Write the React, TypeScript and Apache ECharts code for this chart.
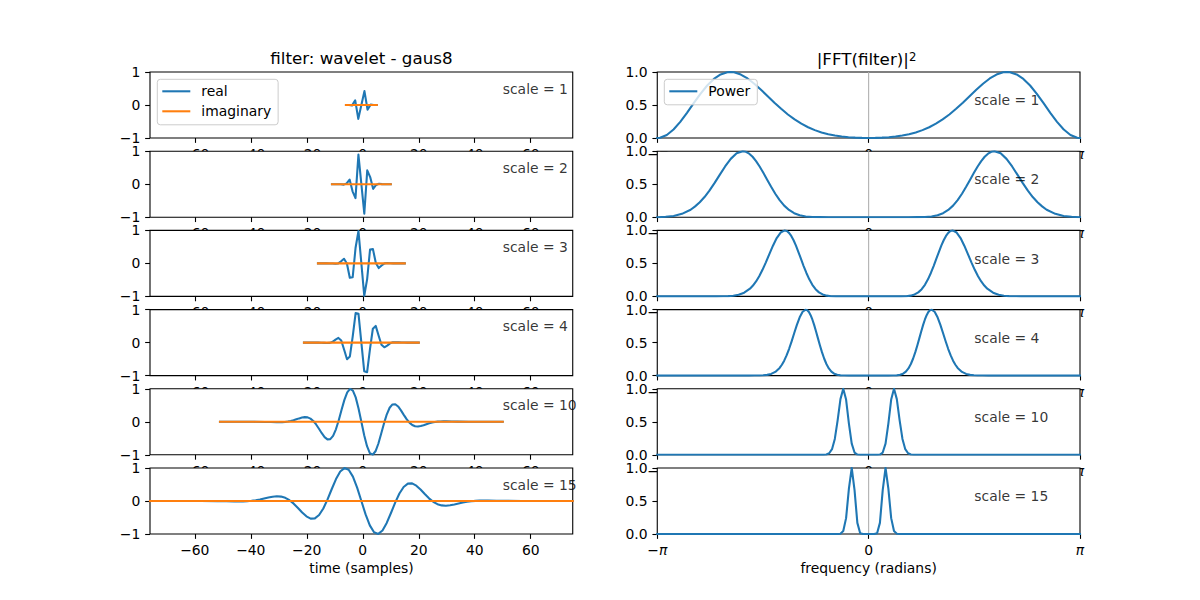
import React, { useEffect, useRef } from 'react';
import * as echarts from 'echarts';

// ---------------- data ----------------
const scales = [1, 2, 3, 4, 10, 15];

// time-domain filter (real part) for scales 1..4: sample positions and values
const t1 = [-6, -4.9, -3.8, -2.7, -1.6, -0.5, 0.6, 1.7, 2.8, 3.9, 5];
const real1 = [0, -0.0003, -0.012, 0.1414, -0.4203, 0, 0.4203, -0.1414, 0.012, 0.0003, 0];

const t2 = [-11, -9.95, -8.9, -7.85, -6.8, -5.75, -4.7, -3.65, -2.6, -1.55, -0.5, 0.55, 1.6, 2.65, 3.7, 4.75, 5.8, 6.85, 7.9, 8.95, 10];
const real2 = [0, 0, -0.0003, -0.003, -0.012, 0.0227, 0.1415, -0.216, -0.4203, 0.896, 0, -0.896, 0.4203, 0.216, -0.1415, -0.0227, 0.012, 0.003, 0.0003, 0, 0];

const t3 = [-16, -14.967, -13.933, -12.9, -11.867, -10.833, -9.8, -8.767, -7.733, -6.7, -5.667, -4.633, -3.6, -2.567, -1.533, -0.5, 0.533, 1.567, 2.6, 3.633, 4.667, 5.7, 6.733, 7.767, 8.8, 9.833, 10.867, 11.9, 12.933, 13.967, 15];
const real3 = [0, 0, 0, -0.0003, -0.001, -0.0056, -0.012, -0.0015, 0.0636, 0.1415, -0.0017, -0.4334, -0.4203, 0.475, 0.9815, 0, -0.9815, -0.475, 0.4203, 0.4334, 0.0119, -0.1415, -0.0636, 0.0015, 0.012, 0.0056, 0.001, 0.0003, 0, 0, 0];

const t4 = [-21, -19.975, -18.95, -17.925, -16.9, -15.875, -14.85, -13.825, -12.8, -11.775, -10.75, -9.725, -8.7, -7.675, -6.65, -5.625, -4.6, -3.575, -2.55, -1.525, -0.5, 0.525, 1.55, 2.575, 3.6, 4.625, 5.65, 6.675, 7.7, 8.725, 9.75, 10.775, 11.8, 12.825, 13.85, 14.875, 15.9, 16.925, 17.95, 18.975, 20];
const real4 = [0, 0, 0, 0, -0.0003, -0.0008, -0.003, -0.0072, -0.012, -0.0078, 0.0227, 0.0894, 0.1415, 0.0646, -0.216, -0.5058, -0.4203, 0.1965, 0.8958, 0.8705, 0, -0.8705, -0.8958, -0.1965, 0.4203, 0.5058, 0.216, -0.0646, -0.1415, -0.0894, -0.0227, 0.0078, 0.012, 0.0072, 0.003, 0.0008, 0.0003, 0, 0, 0, 0];

// scales 10 and 15: [t, value] pairs
const real10 = [[-51, 0], [-38.9, -0.0007], [-34.84, -0.0045], [-32.82, -0.0083], [-30.8, -0.012], [-29.79, -0.0123], [-28.78, -0.0102], [-27.77, -0.0045], [-26.76, 0.0063], [-25.75, 0.0232], [-24.74, 0.0462], [-23.73, 0.0741], [-22.72, 0.1034], [-21.71, 0.1285], [-20.7, 0.1415], [-19.69, 0.1335], [-18.68, 0.0963], [-17.67, 0.0247], [-16.66, -0.0803], [-15.65, -0.21], [-14.64, -0.3466], [-13.63, -0.464], [-12.62, -0.533], [-11.61, -0.526], [-10.6, -0.4247], [-9.59, -0.227], [-8.58, 0.0489], [-7.57, 0.364], [-6.56, 0.665], [-5.55, 0.8933], [-4.54, 0.9976], [-3.53, 0.947], [-2.52, 0.74], [-1.51, 0.4056], [-0.5, 0], [0.51, -0.4056], [1.52, -0.74], [2.53, -0.947], [3.54, -0.9976], [4.55, -0.8933], [5.56, -0.665], [6.57, -0.364], [7.58, -0.0489], [8.59, 0.227], [9.6, 0.4247], [10.61, 0.526], [11.62, 0.533], [12.63, 0.464], [13.64, 0.3466], [14.65, 0.21], [15.66, 0.0803], [16.67, -0.0247], [17.68, -0.0963], [18.69, -0.1335], [19.7, -0.1415], [20.71, -0.1285], [21.72, -0.1034], [22.73, -0.0741], [23.74, -0.0462], [24.75, -0.0232], [25.76, -0.0063], [26.77, 0.0045], [27.78, 0.0102], [28.79, 0.0123], [29.8, 0.012], [31.82, 0.0083], [33.84, 0.0045], [37.88, 0.0007], [50, 0]];

const real15 = [[-76, 0], [-57.88, -0.0007], [-51.84, -0.0045], [-48.82, -0.0083], [-45.8, -0.012], [-44.29, -0.0123], [-42.78, -0.0102], [-41.27, -0.0045], [-39.76, 0.0063], [-38.25, 0.0232], [-36.74, 0.0462], [-35.23, 0.0741], [-33.72, 0.1034], [-32.21, 0.1285], [-30.7, 0.1415], [-29.19, 0.1335], [-27.68, 0.0963], [-26.17, 0.0247], [-24.66, -0.0803], [-23.15, -0.21], [-21.64, -0.3466], [-20.13, -0.464], [-18.62, -0.533], [-17.11, -0.526], [-15.6, -0.4247], [-14.09, -0.227], [-12.58, 0.0489], [-11.07, 0.364], [-9.56, 0.665], [-8.05, 0.8933], [-6.54, 0.9976], [-5.03, 0.947], [-3.52, 0.74], [-2.01, 0.4056], [-0.5, 0], [1.01, -0.4056], [2.52, -0.74], [4.03, -0.947], [5.54, -0.9976], [7.05, -0.8933], [8.56, -0.665], [10.07, -0.364], [11.58, -0.0489], [13.09, 0.227], [14.6, 0.4247], [16.11, 0.526], [17.62, 0.533], [19.13, 0.464], [20.64, 0.3466], [22.15, 0.21], [23.66, 0.0803], [25.17, -0.0247], [26.68, -0.0963], [28.19, -0.1335], [29.7, -0.1415], [31.21, -0.1285], [32.72, -0.1034], [34.23, -0.0741], [35.74, -0.0462], [37.25, -0.0232], [38.76, -0.0063], [40.27, 0.0045], [41.78, 0.0102], [43.29, 0.0123], [44.8, 0.012], [47.82, 0.0083], [49.84, 0.0045], [56.88, 0.0007], [75, 0]];

// imaginary part (all zero) over each filter's support
const imag1 = [[-6, 0], [5, 0]];
const imag2 = [[-11, 0], [10, 0]];
const imag3 = [[-16, 0], [15, 0]];
const imag4 = [[-21, 0], [20, 0]];
const imag10 = [[-51, 0], [50, 0]];
const imag15 = [[-76, 0], [75, 0]];

// |FFT(filter)|^2 : [frequency (rad), power]
const power1 = [[-3.1416, 0], [-3.1, 0.004], [-3.0, 0.0454], [-2.9, 0.1279], [-2.8, 0.2436], [-2.7, 0.3807], [-2.6, 0.5272], [-2.5, 0.6689], [-2.4, 0.7953], [-2.3, 0.8952], [-2.2, 0.9638], [-2.1, 0.9967], [-2.056, 1.0], [-2.0, 0.9951], [-1.9, 0.9615], [-1.8, 0.9019], [-1.7, 0.8227], [-1.6, 0.7309], [-1.5, 0.6331], [-1.4, 0.5351], [-1.3, 0.442], [-1.2, 0.3565], [-1.1, 0.2813], [-1.0, 0.2166], [-0.9, 0.163], [-0.8, 0.1192], [-0.7, 0.0847], [-0.6, 0.0578], [-0.5, 0.0376], [-0.4, 0.0227], [-0.3, 0.0122], [-0.2, 0.0052], [-0.1, 0.0013], [0, 0], [0.1, 0.0013], [0.2, 0.0052], [0.3, 0.0122], [0.4, 0.0227], [0.5, 0.0376], [0.6, 0.0578], [0.7, 0.0847], [0.8, 0.1192], [0.9, 0.163], [1.0, 0.2166], [1.1, 0.2813], [1.2, 0.3565], [1.3, 0.442], [1.4, 0.5351], [1.5, 0.6331], [1.6, 0.7309], [1.7, 0.8227], [1.8, 0.9019], [1.9, 0.9615], [2.0, 0.9951], [2.056, 1.0], [2.1, 0.9967], [2.2, 0.9638], [2.3, 0.8952], [2.4, 0.7953], [2.5, 0.6689], [2.6, 0.5272], [2.7, 0.3807], [2.8, 0.2436], [2.9, 0.1279], [3.0, 0.0454], [3.1, 0.004], [3.1416, 0]];

const power2 = [[-3.1416, 0], [-3.1305, 0.0005], [-3.0166, 0.006], [-2.8983, 0.019], [-2.7749, 0.051], [-2.6458, 0.113], [-2.5788, 0.1642], [-2.51, 0.2264], [-2.4393, 0.3055], [-2.3665, 0.4025], [-2.2913, 0.516], [-2.2136, 0.641], [-2.1331, 0.7684], [-2.0494, 0.8837], [-1.9622, 0.9676], [-1.8708, 1.0], [-1.8235, 0.9909], [-1.7748, 0.963], [-1.7248, 0.916], [-1.6733, 0.8505], [-1.6202, 0.7681], [-1.5653, 0.6724], [-1.5083, 0.568], [-1.4492, 0.4603], [-1.3875, 0.3553], [-1.3229, 0.2588], [-1.255, 0.1756], [-1.1832, 0.1093], [-1.1068, 0.0609], [-1.0247, 0.0294], [-0.9354, 0.0116], [-0.8367, 0.0035], [-0.7246, 0.0007], [-0.5916, 0.0001], [0, 0], [0.5916, 0.0001], [0.7246, 0.0007], [0.8367, 0.0035], [0.9354, 0.0116], [1.0247, 0.0294], [1.1068, 0.0609], [1.1832, 0.1093], [1.255, 0.1756], [1.3229, 0.2588], [1.3875, 0.3553], [1.4492, 0.4603], [1.5083, 0.568], [1.5653, 0.6724], [1.6202, 0.7681], [1.6733, 0.8505], [1.7248, 0.916], [1.7748, 0.963], [1.8235, 0.9909], [1.8708, 1.0], [1.9622, 0.9676], [2.0494, 0.8837], [2.1331, 0.7684], [2.2136, 0.641], [2.2913, 0.516], [2.3665, 0.4025], [2.4393, 0.3055], [2.51, 0.2264], [2.5788, 0.1642], [2.6458, 0.113], [2.7749, 0.051], [2.8983, 0.019], [3.0166, 0.006], [3.1305, 0.0005], [3.1416, 0]];

const power3 = [[-3.1416, 0], [-2.3664, 0.0001], [-2.2657, 0.0004], [-2.1602, 0.0018], [-2.087, 0.0046], [-2.0111, 0.011], [-1.9322, 0.0254], [-1.8499, 0.0561], [-1.7638, 0.1167], [-1.7192, 0.1642], [-1.6733, 0.2264], [-1.6262, 0.3055], [-1.5776, 0.4025], [-1.5275, 0.516], [-1.4757, 0.641], [-1.422, 0.7684], [-1.3663, 0.8837], [-1.3081, 0.9676], [-1.2472, 1.0], [-1.2156, 0.9909], [-1.1832, 0.963], [-1.1499, 0.916], [-1.1155, 0.8505], [-1.0801, 0.7681], [-1.0435, 0.6724], [-1.0055, 0.568], [-0.9661, 0.4603], [-0.925, 0.3553], [-0.8819, 0.2588], [-0.8367, 0.1756], [-0.7888, 0.1093], [-0.7379, 0.0609], [-0.6831, 0.0294], [-0.6236, 0.0116], [-0.5578, 0.0035], [-0.483, 0.0007], [-0.3944, 0.0001], [0, 0], [0.3944, 0.0001], [0.483, 0.0007], [0.5578, 0.0035], [0.6236, 0.0116], [0.6831, 0.0294], [0.7379, 0.0609], [0.7888, 0.1093], [0.8367, 0.1756], [0.8819, 0.2588], [0.925, 0.3553], [0.9661, 0.4603], [1.0055, 0.568], [1.0435, 0.6724], [1.0801, 0.7681], [1.1155, 0.8505], [1.1499, 0.916], [1.1832, 0.963], [1.2156, 0.9909], [1.2472, 1.0], [1.3081, 0.9676], [1.3663, 0.8837], [1.422, 0.7684], [1.4757, 0.641], [1.5275, 0.516], [1.5776, 0.4025], [1.6262, 0.3055], [1.6733, 0.2264], [1.7192, 0.1642], [1.7638, 0.1167], [1.8499, 0.0561], [1.9322, 0.0254], [2.0111, 0.011], [2.087, 0.0046], [2.1602, 0.0018], [2.2657, 0.0004], [2.3664, 0.0001], [3.1416, 0]];

const power4 = [[-3.1416, 0], [-1.7748, 0.0001], [-1.6993, 0.0004], [-1.6202, 0.0018], [-1.5653, 0.0046], [-1.5083, 0.011], [-1.4492, 0.0254], [-1.3875, 0.0561], [-1.3229, 0.1167], [-1.2894, 0.1642], [-1.255, 0.2264], [-1.2196, 0.3055], [-1.1832, 0.4025], [-1.1457, 0.516], [-1.1068, 0.641], [-1.0665, 0.7684], [-1.0247, 0.8837], [-0.9811, 0.9676], [-0.9354, 1.0], [-0.9117, 0.9909], [-0.8874, 0.963], [-0.8624, 0.916], [-0.8367, 0.8505], [-0.8101, 0.7681], [-0.7826, 0.6724], [-0.7542, 0.568], [-0.7246, 0.4603], [-0.6937, 0.3553], [-0.6614, 0.2588], [-0.6275, 0.1756], [-0.5916, 0.1093], [-0.5534, 0.0609], [-0.5124, 0.0294], [-0.4677, 0.0116], [-0.4183, 0.0035], [-0.3623, 0.0007], [-0.2958, 0.0001], [0, 0], [0.2958, 0.0001], [0.3623, 0.0007], [0.4183, 0.0035], [0.4677, 0.0116], [0.5124, 0.0294], [0.5534, 0.0609], [0.5916, 0.1093], [0.6275, 0.1756], [0.6614, 0.2588], [0.6937, 0.3553], [0.7246, 0.4603], [0.7542, 0.568], [0.7826, 0.6724], [0.8101, 0.7681], [0.8367, 0.8505], [0.8624, 0.916], [0.8874, 0.963], [0.9117, 0.9909], [0.9354, 1.0], [0.9811, 0.9676], [1.0247, 0.8837], [1.0665, 0.7684], [1.1068, 0.641], [1.1457, 0.516], [1.1832, 0.4025], [1.2196, 0.3055], [1.255, 0.2264], [1.2894, 0.1642], [1.3229, 0.1167], [1.3875, 0.0561], [1.4492, 0.0254], [1.5083, 0.011], [1.5653, 0.0046], [1.6202, 0.0018], [1.6993, 0.0004], [1.7748, 0.0001], [3.1416, 0]];

const power10 = [[-3.1416, 0], [-0.754, 0], [-0.7121, 0.0001], [-0.6702, 0.0008], [-0.6283, 0.0049], [-0.5864, 0.0231], [-0.5445, 0.0846], [-0.5027, 0.2402], [-0.4608, 0.5203], [-0.4189, 0.8439], [-0.377, 1.0], [-0.3351, 0.8376], [-0.2932, 0.4732], [-0.2513, 0.1685], [-0.2094, 0.034], [-0.1676, 0.0033], [-0.1257, 0.0001], [-0.0838, 0], [0, 0], [0.0838, 0], [0.1257, 0.0001], [0.1676, 0.0033], [0.2094, 0.034], [0.2513, 0.1685], [0.2932, 0.4732], [0.3351, 0.8376], [0.377, 1.0], [0.4189, 0.8439], [0.4608, 0.5203], [0.5027, 0.2402], [0.5445, 0.0846], [0.5864, 0.0231], [0.6283, 0.0049], [0.6702, 0.0008], [0.7121, 0.0001], [0.754, 0], [3.1416, 0]];

const power15 = [[-3.1416, 0], [-0.5027, 0], [-0.4608, 0.0003], [-0.4189, 0.0049], [-0.377, 0.0456], [-0.3351, 0.2402], [-0.2932, 0.6879], [-0.2513, 1.0], [-0.2094, 0.6637], [-0.1676, 0.1685], [-0.1257, 0.0117], [-0.0838, 0.0001], [-0.0419, 0], [0, 0], [0.0419, 0], [0.0838, 0.0001], [0.1257, 0.0117], [0.1676, 0.1685], [0.2094, 0.6637], [0.2513, 1.0], [0.2932, 0.6879], [0.3351, 0.2402], [0.377, 0.0456], [0.4189, 0.0049], [0.4608, 0.0003], [0.5027, 0], [3.1416, 0]];

// axis ticks and annotation anchors
const timeTicks = [-60, -40, -20, 0, 20, 40, 60];
const freqTicks = [-Math.PI, 0, Math.PI];
const timeRange = [-76, 75];
const timeLabelAt = [50, 0.35];
const freqLabelAt = [Math.PI / 2, 0.5];
const zeroFreqLine = [[0, 0], [0, 1]];

const realSeries = [
  t1.map((t, i) => [t, real1[i]]),
  t2.map((t, i) => [t, real2[i]]),
  t3.map((t, i) => [t, real3[i]]),
  t4.map((t, i) => [t, real4[i]]),
  real10,
  real15,
];
const imagSeries = [imag1, imag2, imag3, imag4, imag10, imag15];
const powerSeries = [power1, power2, power3, power4, power10, power15];

// ---------------- style / layout ----------------
const FONT = '"DejaVu Sans", sans-serif';
const BLUE = '#1f77b4';
const ORANGE = '#ff7f0e';
const COL_LEFT = [150, 657.27];
const AX_W = 422.73;
const AX_H = 66;
const TOP0 = 72;
const ROW_STEP = 79.2;
const FS = 13.9;

const minusFmt = (v: number) => (v < 0 ? '\u2212' + Math.abs(v) : String(v));

function buildOption() {
  const grid: any[] = [];
  const xAxis: any[] = [];
  const yAxis: any[] = [];
  const series: any[] = [];

  const tickCommon = { show: true, length: 4.86, lineStyle: { color: '#000', width: 1.1 } };
  const labelCommon = { color: '#000', fontSize: FS, fontFamily: FONT };
  const noLine = { show: false, onZero: false };

  scales.forEach((s, r) => {
    const top = TOP0 + r * ROW_STEP;
    for (let c = 0; c < 2; c++) {
      grid.push({
        left: COL_LEFT[c], top, width: AX_W, height: AX_H,
        show: true, backgroundColor: '#ffffff', borderColor: '#000', borderWidth: 1.1,
        containLabel: false, outerBoundsMode: 'none', z: 10 * r,
      });
    }
    const gL = 2 * r;
    const gR = 2 * r + 1;

    // left (time) axes
    xAxis.push({
      type: 'value', gridIndex: gL, position: 'bottom', min: timeRange[0], max: timeRange[1], z: 10 * r + 5,
      axisLine: noLine, splitLine: { show: false },
      axisTick: { ...tickCommon, customValues: timeTicks },
      axisLabel: { ...labelCommon, margin: 9, customValues: timeTicks, formatter: minusFmt },
    });
    yAxis.push({
      type: 'value', gridIndex: gL, position: 'left', min: -1, max: 1, interval: 1, z: 10 * r + 5,
      axisLine: noLine, splitLine: { show: false },
      axisTick: tickCommon,
      axisLabel: { ...labelCommon, margin: 9.7, formatter: minusFmt },
    });
    // right (frequency) axes
    xAxis.push({
      type: 'value', gridIndex: gR, position: 'bottom', min: -Math.PI, max: Math.PI, z: 10 * r + 5,
      axisLine: noLine, splitLine: { show: false },
      axisTick: { ...tickCommon, customValues: freqTicks },
      axisLabel: {
        ...labelCommon, margin: 9, customValues: freqTicks,
        formatter: (v: number) => (Math.abs(v) < 1e-6 ? '0' : v < 0 ? '\u2212{pi|\u03c0}' : '{pi|\u03c0}'),
        rich: { pi: { fontStyle: 'italic', fontSize: FS, fontFamily: FONT, color: '#000' } },
      },
    });
    yAxis.push({
      type: 'value', gridIndex: gR, position: 'left', min: 0, max: 1, interval: 0.5, z: 10 * r + 5,
      axisLine: noLine, splitLine: { show: false },
      axisTick: tickCommon,
      axisLabel: { ...labelCommon, margin: 9.7, formatter: (v: number) => v.toFixed(1) },
    });

    const lineBase = {
      type: 'line', symbol: 'none', showSymbol: false, silent: true,
      emphasis: { disabled: true }, z: 10 * r + 6, animation: false,
    };
    series.push({
      ...lineBase, name: 'real', xAxisIndex: gL, yAxisIndex: gL, data: realSeries[r],
      lineStyle: { color: BLUE, width: 2.08, cap: 'square', join: 'round' }, itemStyle: { color: BLUE },
    });
    series.push({
      ...lineBase, name: 'imaginary', xAxisIndex: gL, yAxisIndex: gL, data: imagSeries[r],
      lineStyle: { color: ORANGE, width: 2.08, cap: 'square', join: 'round' }, itemStyle: { color: ORANGE },
    });
    series.push({
      ...lineBase, name: 'grid0', xAxisIndex: gR, yAxisIndex: gR, data: zeroFreqLine,
      lineStyle: { color: '#b0b0b0', width: 1.1 }, itemStyle: { color: '#b0b0b0' },
    });
    series.push({
      ...lineBase, name: 'Power', xAxisIndex: gR, yAxisIndex: gR, data: powerSeries[r],
      lineStyle: { color: BLUE, width: 2.08, cap: 'square', join: 'round' }, itemStyle: { color: BLUE },
    });

    const labelSeries = (gi: number, at: number[]) => ({
      type: 'scatter', xAxisIndex: gi, yAxisIndex: gi, data: [at], symbolSize: 0,
      silent: true, clip: false, z: 10 * r + 7, emphasis: { disabled: true },
      itemStyle: { color: 'rgba(0,0,0,0)' },
      label: {
        show: true, position: 'right', distance: 0, offset: [0, -4.8],
        formatter: 'scale = ' + s, color: '#000', fontSize: FS, fontFamily: FONT,
      },
    });
    series.push(labelSeries(gL, timeLabelAt));
    series.push(labelSeries(gR, freqLabelAt));
  });

  const legendBase = {
    orient: 'vertical', top: 79.3, itemWidth: 28, itemHeight: 14, itemGap: 6,
    icon: 'path://M0,0L28,0L28,2.08L0,2.08Z', selectedMode: false,
    backgroundColor: 'rgba(255,255,255,0.8)', borderColor: '#cccccc', borderWidth: 1, borderRadius: 3,
    padding: [5, 7, 6.5, 5], z: 8,
    textStyle: { color: '#000', fontSize: FS, fontFamily: FONT, padding: [0, 0, 0, 6] },
  };

  const txt = (x: number, y: number, text: string, size: number, align = 'center') => ({
    type: 'text', x, y, z: 100, silent: true,
    style: {
      text, fill: '#000', font: `${size}px ${FONT}`,
      align, verticalAlign: 'middle', textAlign: align, textVerticalAlign: 'middle',
    },
  });

  return {
    animation: false,
    backgroundColor: '#ffffff',
    textStyle: { fontFamily: FONT },
    grid, xAxis, yAxis, series,
    legend: [
      { ...legendBase, left: 157.3, data: ['real', 'imaginary'] },
      { ...legendBase, left: 664.3, data: ['Power'] },
    ],
    graphic: [
      txt(361.4, 58, 'filter: wavelet - gaus8', 16.7),
      txt(816.7, 58.5, '|FFT(filter)|', 16.7, 'left'),
      txt(909, 56.6, '2', 11.7, 'left'),
      txt(361.4, 568, 'time (samples)', FS),
      txt(868.64, 568, 'frequency (radians)', FS),
    ],
  };
}

export default function App() {
  const ref = useRef<HTMLDivElement>(null);
  useEffect(() => {
    document.body.style.margin = '0';
    if (!ref.current) return;
    const chart = echarts.init(ref.current, null, { renderer: 'svg', width: 1200, height: 600 });
    chart.setOption(buildOption() as any);
    return () => chart.dispose();
  }, []);
  return <div ref={ref} style={{ width: 1200, height: 600 }} />;
}
